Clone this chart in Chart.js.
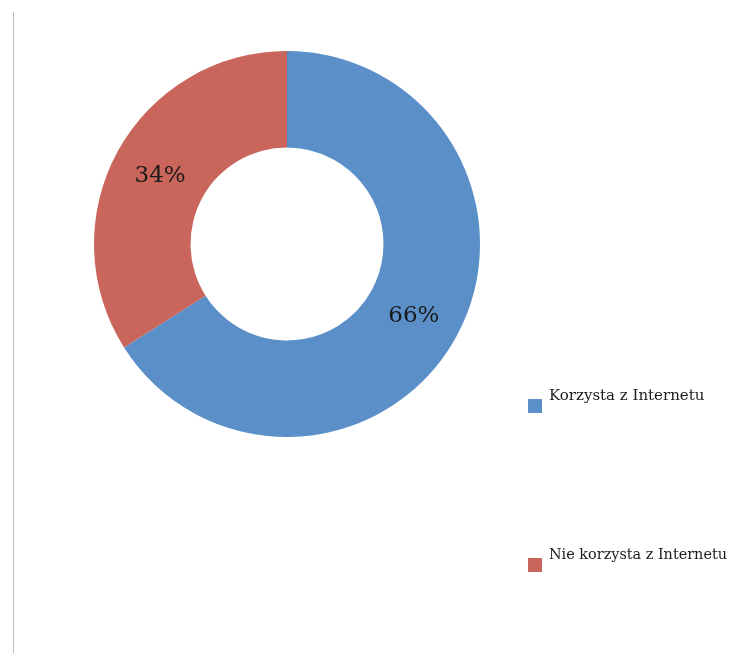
<!DOCTYPE html>
<html>
<head>
<meta charset="utf-8">
<script src="https://cdn.jsdelivr.net/npm/chart.js@4.4.1/dist/chart.umd.min.js"></script>
<style>
    html, body { margin: 0; padding: 0; background: #fff; }
    #wrap { position: relative; width: 731px; height: 653px; }
    #edge { position: absolute; left: 13px; top: 12px; width: 1px; height: 641px; background: #bdbdbd; }
</style>
</head>
<body>
<div id="wrap">
    <div id="edge"></div>
    <canvas id="pieChart" width="731" height="653"></canvas>
</div>
<script>
const labels = ['Korzysta z Internetu', 'Nie korzysta z Internetu'];
const shares = [66, 34];
const colors = ['#5b8fc7', '#c9655a'];

// percent labels on the slices
const sliceLabels = {
    id: 'sliceLabels',
    afterDatasetsDraw(chart) {
        const ctx = chart.ctx;
        const meta = chart.getDatasetMeta(0);
        ctx.save();
        ctx.font = '23px "DejaVu Serif"';
        ctx.fillStyle = '#1a1a1a';
        ctx.textAlign = 'center';
        ctx.textBaseline = 'middle';
        meta.data.forEach((arc, i) => {
            const p = arc.tooltipPosition();
            ctx.fillText(shares[i] + '%', p.x, p.y + 2);
        });
        ctx.restore();
    }
};

// legend on the right, items spread far apart
const sideLegend = {
    id: 'sideLegend',
    afterDraw(chart) {
        const ctx = chart.ctx;
        const rows = [399, 558];
        ctx.save();
        ctx.font = '15px "DejaVu Serif"';
        ctx.textBaseline = 'alphabetic';
        ctx.textAlign = 'left';
        labels.forEach((name, i) => {
            ctx.fillStyle = colors[i];
            ctx.fillRect(528, rows[i], 14, 14);
            ctx.fillStyle = '#1a1a1a';
            // keep the long label inside the canvas
            ctx.fillText(name, 549, rows[i] + 1, 178);
        });
        ctx.restore();
    }
};

const ctx = document.getElementById('pieChart').getContext('2d');
new Chart(ctx, {
    type: 'doughnut',
    data: {
        labels: labels,
        datasets: [{
            data: shares,
            backgroundColor: colors,
            borderWidth: 0
        }]
    },
    options: {
        responsive: false,
        animation: false,
        cutout: '50%',
        layout: {
            padding: { left: 94, top: 51, right: 251, bottom: 216 }
        },
        plugins: {
            legend: { display: false },
            tooltip: { enabled: false }
        }
    },
    plugins: [sliceLabels, sideLegend]
});
</script>
</body>
</html>
